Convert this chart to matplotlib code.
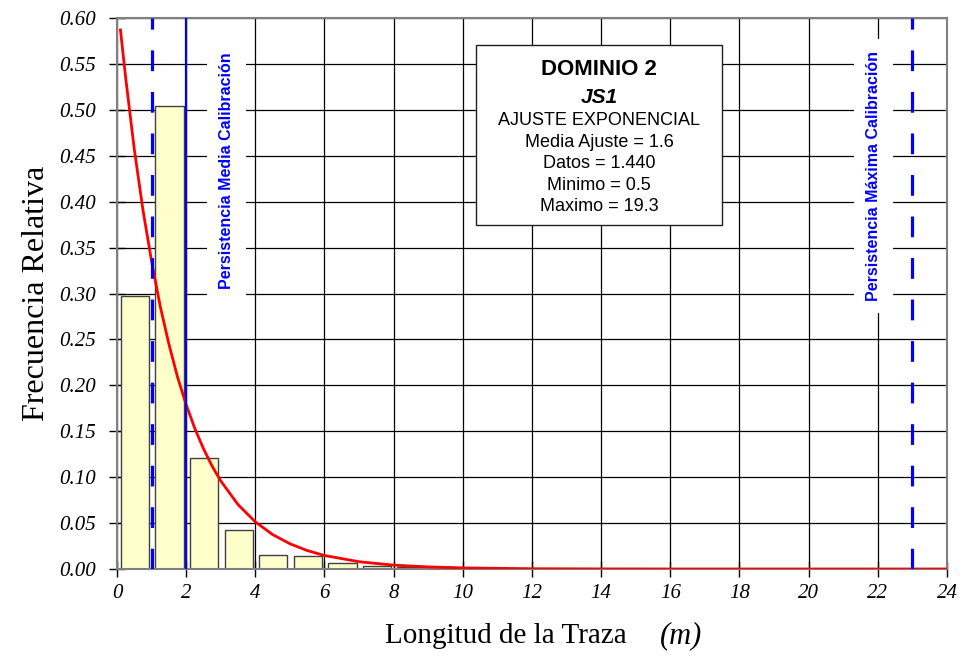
import numpy as np
import matplotlib
matplotlib.use("Agg")
import matplotlib.pyplot as plt
from matplotlib.patches import Rectangle

# ---- data ----
bin_left = [0, 1, 2, 3, 4, 5, 6, 7, 8, 9]
freq_rel = [0.297, 0.504, 0.121, 0.042, 0.015, 0.014, 0.0065, 0.003, 0.002, 0.001]

fit_x = [0.1, 0.25, 0.5, 0.75, 1.0, 1.25, 1.5, 1.75, 2.0, 2.25, 2.5, 2.75, 3.0, 3.5, 4.0,
         4.5, 5.0, 5.5, 6.0, 7.0, 8.0, 9.0, 10.0, 12.0, 14.0, 16.0, 20.0, 24.0]
fit_y = [0.587, 0.535, 0.457, 0.391, 0.335, 0.286, 0.245, 0.209, 0.179, 0.153, 0.131,
         0.112, 0.0959, 0.0701, 0.0513, 0.0375, 0.0275, 0.0201, 0.0147, 0.0079, 0.0042,
         0.0023, 0.0012, 0.0003, 0.0001, 0.0, 0.0, 0.0]

media_dashed = 1.0
media_calib = 2.0
max_calib = 23.0

x_ticks = list(range(0, 25, 2))
y_ticks = [0.00, 0.05, 0.10, 0.15, 0.20, 0.25, 0.30, 0.35, 0.40, 0.45, 0.50, 0.55, 0.60]

box_lines = ["DOMINIO 2", "JS1", "AJUSTE EXPONENCIAL", "Media Ajuste = 1.6",
             "Datos = 1.440", "Minimo = 0.5", "Maximo = 19.3"]

# ---- figure ----
fig = plt.figure(figsize=(9.79, 6.58), dpi=100)
ax = fig.add_axes([117/979, 1-569/658, 830/979, 551/658])
ax.set_xlim(0, 24)
ax.set_ylim(0, 0.60)

# grid
ax.set_axisbelow(True)
ax.grid(True, color="black", linewidth=0.9)

# bars
ax.bar([b + 0.11 for b in bin_left], freq_rel, width=0.82, align="edge",
       color="#FFFFCC", edgecolor="#404040", linewidth=1.0, zorder=2)

# fitted curve
ax.plot(fit_x, fit_y, color="red", lw=2.0, zorder=4)

# calibration lines
ax.axvline(media_dashed, color="#0000FF", lw=2.3, ls=(0, (6.5, 6.5)), zorder=5)
ax.axvline(media_calib, color="#0000FF", lw=1.6, zorder=5)
ax.axvline(max_calib, color="#0000FF", lw=2.3, ls=(0, (6.5, 6.5)), zorder=5)

lab_kw = dict(rotation=90, ha="center", va="center", color="#0000FF",
              family="Liberation Sans", fontweight="bold", fontsize=11.5,
              transform=ax.transAxes, zorder=3,
              bbox=dict(boxstyle="square,pad=0.75", facecolor="white", edgecolor="none"))
ax.text((226.5-117)/830, 0.722, "Persistencia Media Calibración", **lab_kw)
ax.text((873.5-117)/830, 0.713, "Persistencia Máxima Calibración", **lab_kw)

# info box
ax.add_patch(Rectangle((0.4325, 0.624), 0.7289-0.4325, 0.951-0.624,
                       transform=ax.transAxes, facecolor="white",
                       edgecolor="#202020", lw=1.0, zorder=6))
cx = 0.5807
ys_px = [69, 97, 120, 142, 163, 185, 206]
styles = [dict(fontsize=16, fontweight="bold"),
          dict(fontsize=15, fontweight="bold", style="italic"),
          dict(fontsize=13), dict(fontsize=13), dict(fontsize=13),
          dict(fontsize=13), dict(fontsize=13)]
for line, ypx, st in zip(box_lines, ys_px, styles):
    ax.text(cx, (569-ypx)/551, line, ha="center", va="center",
            family="Liberation Sans", transform=ax.transAxes, zorder=7, **st)

# axes styling
for s in ax.spines.values():
    s.set_color("#808080")
    s.set_linewidth(1.5)
ax.set_xticks(x_ticks)
ax.set_yticks(y_ticks)
ax.set_yticklabels([f"{v:.2f}" for v in y_ticks])
ax.tick_params(direction="inout", length=12, width=1, color="black", labelsize=15)
ax.tick_params(axis="y", pad=9)
ax.tick_params(axis="x", pad=5)
for lbl in ax.get_xticklabels() + ax.get_yticklabels():
    lbl.set_family("Liberation Serif")
    lbl.set_style("italic")

ax.set_ylabel("Frecuencia Relativa", family="Liberation Serif", fontsize=23, labelpad=6)
fig.text(506/979, 1-636/658, "Longitud de la Traza", family="Liberation Serif",
         fontsize=21, ha="center", va="center")
fig.text(681/979, 1-636/658, "(m)", family="Liberation Serif", style="italic",
         fontsize=22, ha="center", va="center")

fig.savefig("out.png", dpi=100)
